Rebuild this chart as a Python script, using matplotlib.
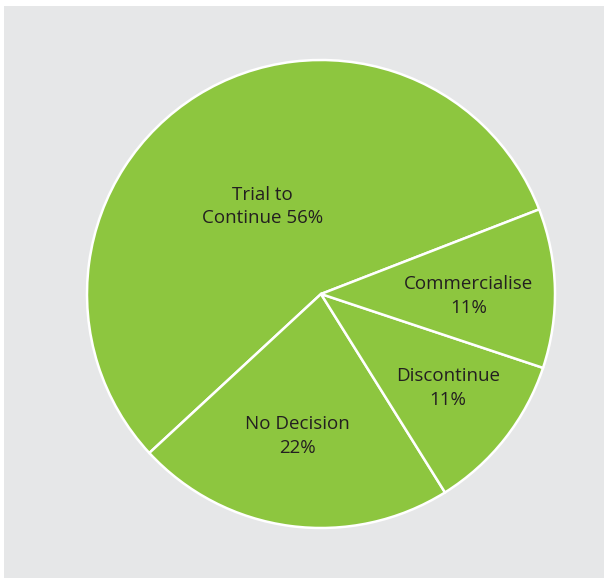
import matplotlib
matplotlib.use('Agg')
import matplotlib.pyplot as plt
import numpy as np
from matplotlib.patches import Rectangle

labels = ['Trial to\nContinue', 'No Decision', 'Discontinue', 'Commercialise']
shares = [56, 22, 11, 11]
inline = [True, False, False, False]

# label placement: radial distance and angular nudge (degrees) from wedge middle
label_dist = [0.45, 0.615, 0.675, 0.63]
label_nudge = [1.8, -2.0, 1.7, -2.2]

green = '#8dc63f'
panel = '#e6e7e8'
ink = '#231f20'

W, H = 604, 578
fig = plt.figure(figsize=(W / 100, H / 100), dpi=100, facecolor='white')
# grey backdrop, leaving a thin white strip on the left and top
fig.patches.append(Rectangle((4 / W, 0), 1, 1 - 6 / H, transform=fig.transFigure,
                             facecolor=panel, edgecolor='none', zorder=-10))

cx, cy, r = 321, 294, 234
ax = fig.add_axes([(cx - r) / W, (H - cy - r) / H, 2 * r / W, 2 * r / H])

wedges, _ = ax.pie(shares, startangle=21.2, counterclock=True, radius=1,
                   colors=[green] * len(shares),
                   wedgeprops=dict(edgecolor='white', linewidth=1.8))
ax.set_xlim(-1, 1)
ax.set_ylim(-1, 1)
ax.set_aspect('auto')
ax.axis('off')

for w, lab, val, d, nud, one in zip(wedges, labels, shares, label_dist, label_nudge, inline):
    mid = np.deg2rad((w.theta1 + w.theta2) / 2 + nud)
    txt = f'{lab} {val}%' if one else f'{lab}\n{val}%'
    ax.text(d * np.cos(mid), d * np.sin(mid), txt, ha='center', va='center',
            fontsize=13.5, family='Open Sans', color=ink, linespacing=1.4)

fig.savefig('out.png', dpi=100, facecolor='white')
